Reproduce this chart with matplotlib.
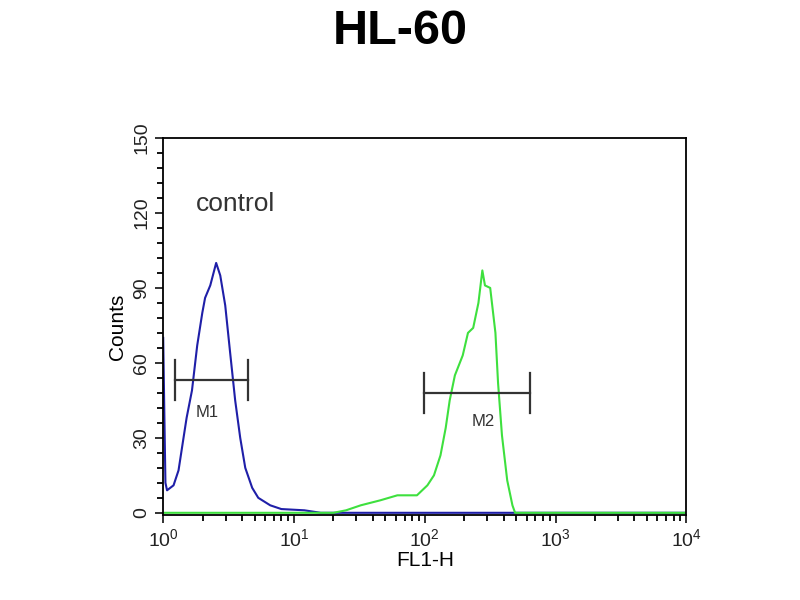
import numpy as np
import matplotlib.pyplot as plt
from matplotlib.ticker import MultipleLocator, LogLocator

plt.rcParams['font.family'] = ['Liberation Sans', 'DejaVu Sans']

# blue = control histogram, green = stained sample (FL1-H, log scale)
blue_x = [1.0, 1.02, 1.04, 1.07, 1.2, 1.31, 1.43, 1.51, 1.66, 1.82, 1.99, 2.09, 2.29,
          2.54, 2.73, 2.98, 3.25, 3.55, 3.88, 4.24, 4.79, 5.33, 6.58, 8.0, 12.0, 16.0, 10000.0]
blue_counts = [70, 40, 12, 9, 11, 17, 30, 38, 49, 67, 80, 86, 91,
               100, 95, 83, 64, 45, 30, 18, 10, 6, 3, 1.5, 1, 0, 0]

green_x = [1.0, 20.0, 25.0, 32.4, 45.7, 61.7, 87.1, 104.7, 117.5, 131.8, 144.5, 155.0,
           169.8, 195.0, 213.8, 234.4, 257.0, 275.4, 288.4, 316.2, 346.7, 363.1,
           389.0, 426.6, 467.7, 490.0, 10000.0]
green_counts = [0, 0, 1, 3, 5, 7, 7, 11, 15, 23, 34, 45,
                55, 63, 72, 74, 84, 97, 91, 90, 72, 52,
                31, 13, 3, 0, 0]

markers = ["M1", "M2"]
marker_lo = [1.24, 99]
marker_hi = [4.47, 641]
marker_y = [53, 48]
label_x = [2.17, 280]
label_y = [40, 36.5]

fig = plt.figure(figsize=(8, 6), dpi=100)
ax = fig.add_axes([0.204, 0.142, 0.654, 0.628])

ax.plot(blue_x, blue_counts, color="#1f1fa8", lw=1.5)
ax.plot(green_x, green_counts, color="#3ee03e", lw=1.5)

for name, lo, hi, y, lx, ly in zip(markers, marker_lo, marker_hi, marker_y, label_x, label_y):
    ax.plot([lo, hi], [y, y], color="#333333", lw=1.6)
    ax.plot([lo, lo], [y - 8, y + 8], color="#333333", lw=1.6)
    ax.plot([hi, hi], [y - 8, y + 8], color="#333333", lw=1.6)
    ax.text(lx, ly, name, ha="center", va="center", fontsize=12, color="#333333")

ax.text(3.55, 123.5, "control", ha="center", va="center", fontsize=19, color="#333333")

ax.set_xscale("log")
ax.set_xlim(1, 10000)
ax.set_ylim(-0.8, 150)
ax.xaxis.set_major_locator(LogLocator(base=10, numticks=10))
ax.xaxis.set_minor_locator(LogLocator(base=10, subs=np.arange(2, 10), numticks=10))
ax.yaxis.set_major_locator(MultipleLocator(30))
ax.yaxis.set_minor_locator(MultipleLocator(6))
ax.tick_params(which="major", length=6, width=1.3, labelsize=14, colors="#222222")
ax.tick_params(which="minor", length=4, width=1.3)
for lbl in ax.get_yticklabels():
    lbl.set_rotation(90)
    lbl.set_va("center")
for s in ax.spines.values():
    s.set_linewidth(1.3)

ax.set_xlabel("FL1-H", fontsize=15, labelpad=1)
ax.set_ylabel("Counts", fontsize=15, labelpad=4)
fig.suptitle("HL-60", fontsize=35, fontweight="bold", x=0.5, y=0.985)

fig.savefig("out.png", dpi=100)
